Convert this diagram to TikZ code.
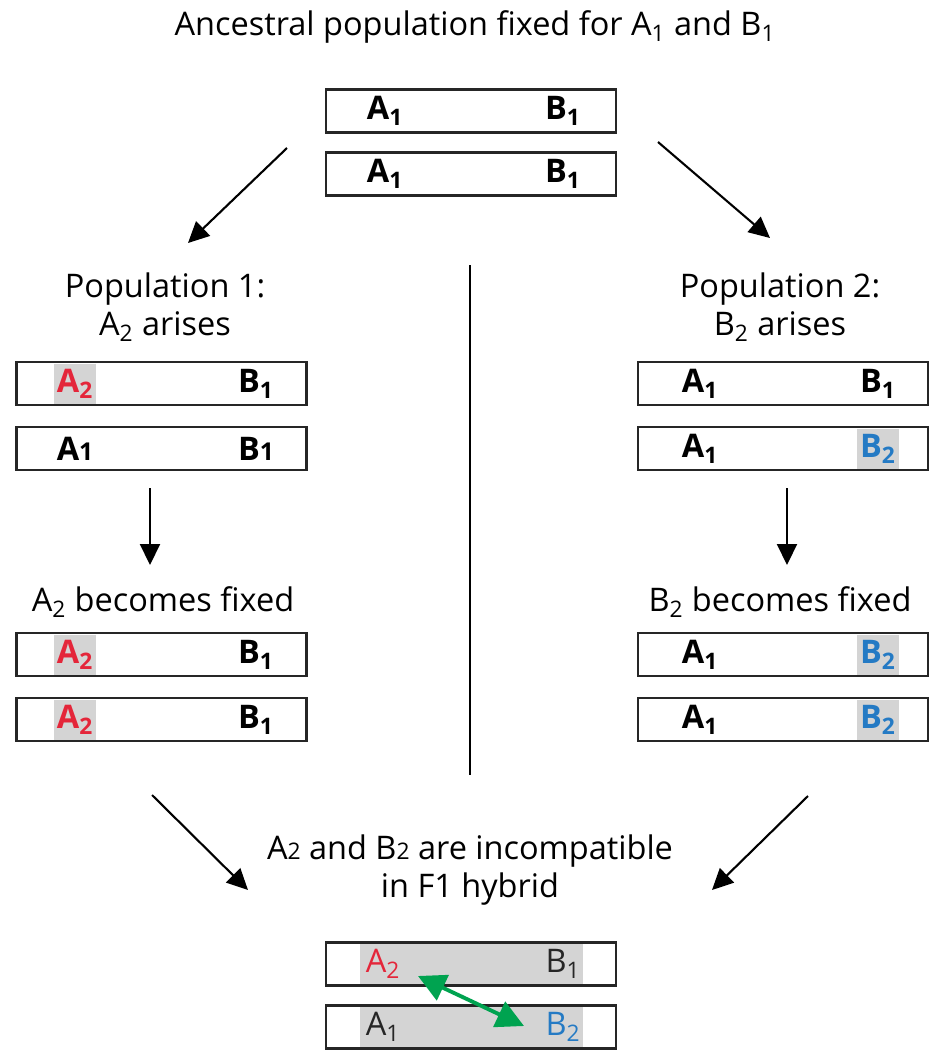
\documentclass[tikz,border=0pt]{standalone}
\usepackage{fontspec}
\setmainfont{Open Sans}
\usetikzlibrary{arrows.meta,positioning,calc}
\definecolor{allelered}{RGB}{228,38,58}
\definecolor{alleleblue}{RGB}{36,122,196}
\definecolor{linkgreen}{RGB}{0,163,80}
\definecolor{shade}{RGB}{212,212,212}

\begin{document}
\begin{tikzpicture}[x=0.02cm,y=-0.02cm,
  every node/.style={font=\fontsize{18.5}{21.5}\selectfont},
  chrom/.style={draw=black!85,line width=1.5pt,minimum width=5.8cm,minimum height=0.86cm,inner sep=0pt},
  allele/.style={font=\fontsize{18.5}{21.5}\selectfont\bfseries,inner sep=0pt},
  plain/.style={font=\fontsize{18.5}{21.5}\selectfont,inner sep=0pt,text=black!85},
  hl/.style={fill=shade,minimum width=0.84cm,minimum height=0.8cm},
  band/.style={fill=shade,minimum width=4.46cm,minimum height=0.8cm,inner sep=0pt},
  arr/.style={line width=1.2pt,-{Triangle[length=0.42cm,width=0.4cm]}},
  link/.style={draw=linkgreen,line width=2.2pt,{Triangle[length=0.55cm,width=0.55cm]}-{Triangle[length=0.55cm,width=0.55cm]}}]

\useasboundingbox (0,0) rectangle (930,1052);

\node (title) at (475,27) {Ancestral population fixed for A\textsubscript{1} and B\textsubscript{1}};

\node[chrom] (anc1) at (471,111) {};
\node[chrom] (anc2) at (471,174) {};
\node[allele] (anc1a) at (385,111) {A\textsubscript{1}};
\node[allele] (anc1b) at (563,111) {B\textsubscript{1}};
\node[allele] (anc2a) at (385,174) {A\textsubscript{1}};
\node[allele] (anc2b) at (563,174) {B\textsubscript{1}};

\node[align=center] (pop1) at (165,307) {Population 1:\\A\textsubscript{2} arises};
\node[align=center] (pop2) at (780,307) {Population 2:\\B\textsubscript{2} arises};

\node[chrom] (p1a) at (161.5,383.5) {};
\node[chrom] (p1b) at (161.5,448.5) {};
\node[allele,hl,text=allelered] (p1aa) at (75,383.5) {A\textsubscript{2}};
\node[allele] (p1ab) at (256,383.5) {B\textsubscript{1}};
\node[allele] (p1ba) at (75,448.5) {A{\fontsize{14}{14}\selectfont 1}};
\node[allele] (p1bb) at (256,448.5) {B{\fontsize{14}{14}\selectfont 1}};

\node[chrom] (p2a) at (783,383.5) {};
\node[chrom] (p2b) at (783,448.5) {};
\node[allele] (p2aa) at (700,383.5) {A\textsubscript{1}};
\node[allele] (p2ab) at (878,383.5) {B\textsubscript{1}};
\node[allele] (p2ba) at (700,448.5) {A\textsubscript{1}};
\node[allele,hl,text=alleleblue] (p2bb) at (878,448.5) {B\textsubscript{2}};

\node (fix1) at (163,602) {A\textsubscript{2} becomes fixed};
\node (fix2) at (780,602) {B\textsubscript{2} becomes fixed};

\node[chrom] (p1c) at (161.5,654.5) {};
\node[chrom] (p1d) at (161.5,719.5) {};
\node[allele,hl,text=allelered] (p1ca) at (75,654.5) {A\textsubscript{2}};
\node[allele] (p1cb) at (256,654.5) {B\textsubscript{1}};
\node[allele,hl,text=allelered] (p1da) at (75,719.5) {A\textsubscript{2}};
\node[allele] (p1db) at (256,719.5) {B\textsubscript{1}};

\node[chrom] (p2c) at (783,654.5) {};
\node[chrom] (p2d) at (783,719.5) {};
\node[allele] (p2ca) at (700,654.5) {A\textsubscript{1}};
\node[allele,hl,text=alleleblue] (p2cb) at (878,654.5) {B\textsubscript{2}};
\node[allele] (p2da) at (700,719.5) {A\textsubscript{1}};
\node[allele,hl,text=alleleblue] (p2db) at (878,719.5) {B\textsubscript{2}};

\node[align=center] (incomp) at (470,870) {A{\fontsize{13}{13}\selectfont 2} and B{\fontsize{13}{13}\selectfont 2} are incompatible\\in F1 hybrid};

\node[band] (band1) at (471.5,964) {};
\node[band] (band2) at (471.5,1027) {};
\node[chrom] (hyb1) at (471,964) {};
\node[chrom] (hyb2) at (471,1027) {};
\node[plain,text=allelered] (hyb1a) at (383,964) {A\textsubscript{2}};
\node[plain] (hyb1b) at (563,964) {B\textsubscript{1}};
\node[plain] (hyb2a) at (383,1027) {A\textsubscript{1}};
\node[plain,text=alleleblue] (hyb2b) at (563,1027) {B\textsubscript{2}};

\coordinate (split1) at (287,148);
\coordinate (split2) at (658,142);
\coordinate (into1) at (188,243);
\coordinate (into2) at (770,238);
\coordinate (down1) at (150,488);
\coordinate (down2) at (787,488);
\coordinate (fixed1) at (150,565);
\coordinate (fixed2) at (787,565);
\coordinate (merge1) at (152,795);
\coordinate (merge2) at (808,796);
\coordinate (hybrid1) at (248,890);
\coordinate (hybrid2) at (712,890);
\coordinate (wall1) at (470,265);
\coordinate (wall2) at (470,775);
\coordinate (clash1) at (418,976);
\coordinate (clash2) at (524,1026);

\draw[arr] (split1)--(into1);
\draw[arr] (split2)--(into2);
\draw[arr] (down1)--(fixed1);
\draw[arr] (down2)--(fixed2);
\draw[arr] (merge1)--(hybrid1);
\draw[arr] (merge2)--(hybrid2);
\draw[line width=1.6pt] (wall1)--(wall2);
\draw[link] (clash1)--(clash2);
\end{tikzpicture}
\end{document}
